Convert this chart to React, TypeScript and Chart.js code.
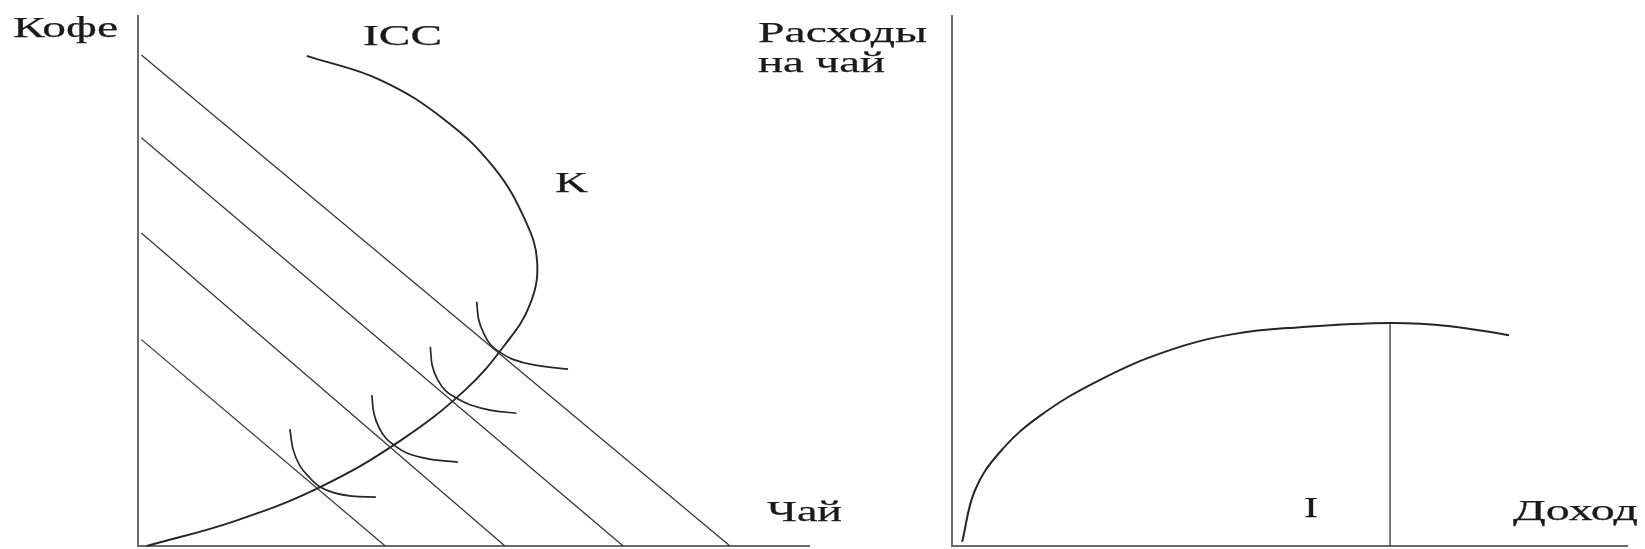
import React, { useEffect, useRef } from "react";
import { Chart, registerables } from "chart.js";

Chart.register(...registerables);

// ---------- Left panel: Чай (x) vs Кофе (y), units 0..10 ----------
const budgetCoffeeIntercepts = [3.94, 5.95, 7.74, 9.3];
const budgetTeaIntercepts = [3.68, 5.46, 7.22, 8.81];

const iccTea = [2.51, 3.6, 4.57, 5.3, 5.76, 5.94, 5.83, 5.46, 4.87, 3.9, 2.71, 1.44, 0.13];
const iccCoffee = [9.23, 8.78, 8.02, 7.12, 6.14, 5.35, 4.54, 3.79, 2.94, 1.98, 1.11, 0.47, 0.0];

const arc1Tea = [2.26, 2.31, 2.41, 2.56, 2.71, 2.92, 3.18, 3.54];
const arc1Coffee = [2.2, 1.81, 1.51, 1.28, 1.11, 1.0, 0.94, 0.92];
const arc2Tea = [3.48, 3.51, 3.59, 3.69, 3.81, 4.0, 4.32, 4.76];
const arc2Coffee = [2.84, 2.5, 2.22, 2.03, 1.9, 1.75, 1.64, 1.58];
const arc3Tea = [4.35, 4.38, 4.46, 4.58, 4.73, 4.94, 5.24, 5.63];
const arc3Coffee = [3.75, 3.39, 3.13, 2.92, 2.79, 2.66, 2.56, 2.5];
const arc4Tea = [5.04, 5.07, 5.15, 5.24, 5.36, 5.57, 5.89, 6.4];
const arc4Coffee = [4.6, 4.26, 3.99, 3.8, 3.67, 3.52, 3.41, 3.33];

// ---------- Right panel: Доход (x) vs Расходы на чай (y), units 0..10 ----------
const incomeValues = [0.15, 0.34, 0.71, 1.3, 2.19, 3.18, 4.16, 5.15, 6.48, 7.37, 8.24];
const teaSpending = [0.08, 1.05, 1.77, 2.45, 3.13, 3.67, 3.99, 4.12, 4.2, 4.14, 3.97];
const incomeMarker = 6.48;
const incomeMarkerSpending = 4.2;

const AXIS_MAX = 10;

const toPts = (xs: number[], ys: number[]) => xs.map((x, i) => ({ x, y: ys[i] }));

type Label = { text: string; left: number; baseline: number; width: number };

function drawLabel(ctx: CanvasRenderingContext2D, l: Label) {
  ctx.save();
  ctx.font = '29px "Liberation Serif", "DejaVu Serif", serif';
  ctx.fillStyle = "#1a1a1a";
  ctx.strokeStyle = "#1a1a1a";
  ctx.lineWidth = 0.25;
  ctx.textBaseline = "alphabetic";
  ctx.textAlign = "left";
  const w = ctx.measureText(l.text).width;
  ctx.translate(l.left, l.baseline);
  ctx.scale(l.width / w, 1);
  ctx.fillText(l.text, 0, 0);
  ctx.strokeText(l.text, 0, 0);
  ctx.restore();
}

function makeDiagramPlugin(labels: Label[]) {
  return {
    id: "diagram",
    beforeDatasetsDraw(chart: any) {
      const { ctx, scales } = chart;
      const xs = scales.x;
      const ys = scales.y;
      const x0 = xs.getPixelForValue(0);
      const x1 = xs.getPixelForValue(AXIS_MAX);
      const y0 = ys.getPixelForValue(0);
      const y1 = ys.getPixelForValue(AXIS_MAX);
      ctx.save();
      ctx.strokeStyle = "#6a6a6a";
      ctx.lineWidth = 2;
      ctx.beginPath();
      ctx.moveTo(x0, y1);
      ctx.lineTo(x0, y0);
      ctx.lineTo(x1, y0);
      ctx.stroke();
      ctx.restore();
    },
    afterDraw(chart: any) {
      labels.forEach((l) => drawLabel(chart.ctx, l));
    },
  };
}

const thin = { borderColor: "#383838", borderWidth: 1.3, pointRadius: 0, tension: 0, clip: false as const };
const thick = { borderColor: "#262626", borderWidth: 1.9, pointRadius: 0, tension: 0.4, clip: false as const };

export default function App() {
  const leftRef = useRef<HTMLCanvasElement>(null);
  const rightRef = useRef<HTMLCanvasElement>(null);

  useEffect(() => {
    const startTea = 0.05;
    const budgetDatasets = budgetCoffeeIntercepts.map((yi, i) => ({
      ...thin,
      data: [
        { x: startTea, y: yi * (1 - startTea / budgetTeaIntercepts[i]) },
        { x: budgetTeaIntercepts[i], y: 0 },
      ],
    }));
    const arcs = [
      [arc1Tea, arc1Coffee],
      [arc2Tea, arc2Coffee],
      [arc3Tea, arc3Coffee],
      [arc4Tea, arc4Coffee],
    ].map(([t, c]) => ({ ...thick, borderWidth: 1.7, data: toPts(t, c) }));

    const commonOpts = (padding: any) => ({
      responsive: false,
      animation: false as const,
      devicePixelRatio: 1,
      layout: { padding },
      plugins: { legend: { display: false }, tooltip: { enabled: false } },
      events: [] as any[],
      scales: {
        x: { type: "linear" as const, min: 0, max: AXIS_MAX, display: false },
        y: { type: "linear" as const, min: 0, max: AXIS_MAX, display: false },
      },
    });

    const left = new Chart(leftRef.current!, {
      type: "line",
      data: {
        datasets: [
          ...budgetDatasets,
          { ...thick, data: toPts(iccTea, iccCoffee) },
          ...arcs,
        ],
      },
      options: commonOpts({ left: 138, right: 60, top: 15, bottom: 3 }),
      plugins: [
        makeDiagramPlugin([
          { text: "Кофе", left: 13, baseline: 37, width: 105 },
          { text: "ICC", left: 363, baseline: 45, width: 79 },
          { text: "K", left: 555, baseline: 192, width: 33 },
          { text: "Чай", left: 767, baseline: 521, width: 75 },
        ]),
      ],
    } as any);

    const right = new Chart(rightRef.current!, {
      type: "line",
      data: {
        datasets: [
          { ...thick, borderWidth: 2, data: toPts(incomeValues, teaSpending) },
          {
            ...thin,
            data: [
              { x: incomeMarker, y: 0 },
              { x: incomeMarker, y: incomeMarkerSpending },
            ],
          },
        ],
      },
      options: commonOpts({ left: 212, right: 17, top: 15, bottom: 3 }),
      plugins: [
        makeDiagramPlugin([
          { text: "Расходы", left: 18, baseline: 42, width: 169 },
          { text: "на чай", left: 18, baseline: 72, width: 127 },
          { text: "I", left: 564, baseline: 517, width: 14 },
          { text: "Доход", left: 773, baseline: 520, width: 125 },
        ]),
      ],
    } as any);

    return () => {
      left.destroy();
      right.destroy();
    };
  }, []);

  return (
    <div style={{ position: "absolute", left: 0, top: 0, width: 1645, height: 549, background: "#fff" }}>
      <canvas ref={leftRef} width={870} height={549} style={{ position: "absolute", left: 0, top: 0 }} />
      <canvas ref={rightRef} width={905} height={549} style={{ position: "absolute", left: 740, top: 0 }} />
    </div>
  );
}
